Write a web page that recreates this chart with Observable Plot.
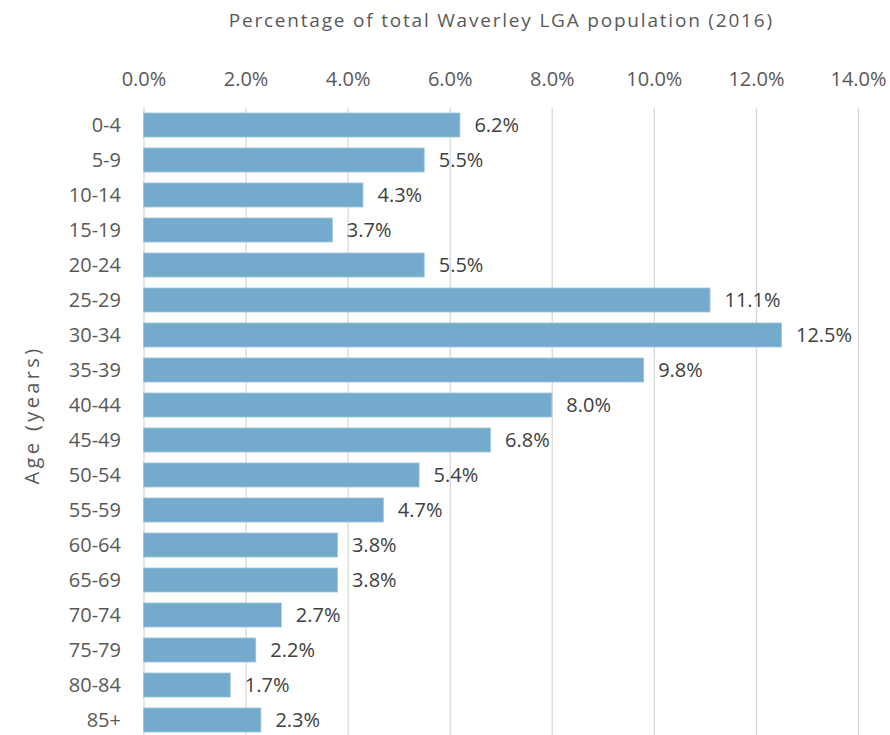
<!DOCTYPE html>
<html>
<head>
<meta charset="utf-8">
<script src="https://cdn.jsdelivr.net/npm/d3@7"></script>
<script src="https://cdn.jsdelivr.net/npm/@observablehq/plot@0.6"></script>
<style>
  html, body { margin: 0; padding: 0; background: #fff; }
  #chart svg { display: block; }
</style>
</head>
<body>
<div id="chart"></div>
<script>
const ageGroups = ["0-4","5-9","10-14","15-19","20-24","25-29","30-34","35-39","40-44","45-49","50-54","55-59","60-64","65-69","70-74","75-79","80-84","85+"];
const shares = [6.2,5.5,4.3,3.7,5.5,11.1,12.5,9.8,8.0,6.8,5.4,4.7,3.8,3.8,2.7,2.2,1.7,2.3];
const xTicks = [0,2,4,6,8,10,12,14];
const titleText = "Percentage of total Waverley LGA population (2016)";
const yTitle = "Age (years)";

const data = ageGroups.map((a, i) => ({age: a, value: shares[i]}));
const font = "'Open Sans', sans-serif";
const pct = d => d.toFixed(1) + "%";

const chart = Plot.plot({
  width: 890,
  height: 735,
  marginLeft: 143.5,
  marginRight: 32,
  marginTop: 107.5,
  marginBottom: -3.5,
  style: {fontFamily: font, fontSize: "20px", color: "#595959", background: "#fff"},
  x: {domain: [0, 14], ticks: xTicks, tickFormat: pct, label: null},
  y: {domain: ageGroups, paddingInner: 0.31, paddingOuter: 0.155, label: null},
  marks: [
    Plot.ruleX(xTicks, {stroke: "#d9d9d9", strokeWidth: 1.3}),
    Plot.axisX({anchor: "top", ticks: xTicks, tickSize: 0, tickPadding: 22, tickFormat: pct, fill: "#595959", fontSize: 20, label: null}),
    Plot.axisY({anchor: "left", tickSize: 0, tickPadding: 23, fill: "#595959", fontSize: 20, label: null}),
    Plot.barX(data, {x: "value", y: "age", fill: "#74abcc", stroke: "#9ec6dd", strokeWidth: 0.8}),
    Plot.text(data, {x: "value", y: "age", text: d => pct(d.value), textAnchor: "start", dx: 14, fill: "#404040", fontSize: 20}),
    Plot.text([titleText], {frameAnchor: "top", lineAnchor: "middle", dy: -87, fill: "#595959", fontSize: 19}),
    Plot.text([yTitle], {frameAnchor: "left", textAnchor: "middle", lineAnchor: "middle", dx: -111, dy: -8.5, rotate: -90, fill: "#595959", fontSize: 20})
  ]
});
d3.select(chart).selectAll("text").each(function() {
  const t = this.textContent;
  if (t === titleText) this.setAttribute("letter-spacing", "1.8px");
  if (t === yTitle) this.setAttribute("letter-spacing", "3.4px");
});
document.getElementById("chart").appendChild(chart);
</script>
</body>
</html>
